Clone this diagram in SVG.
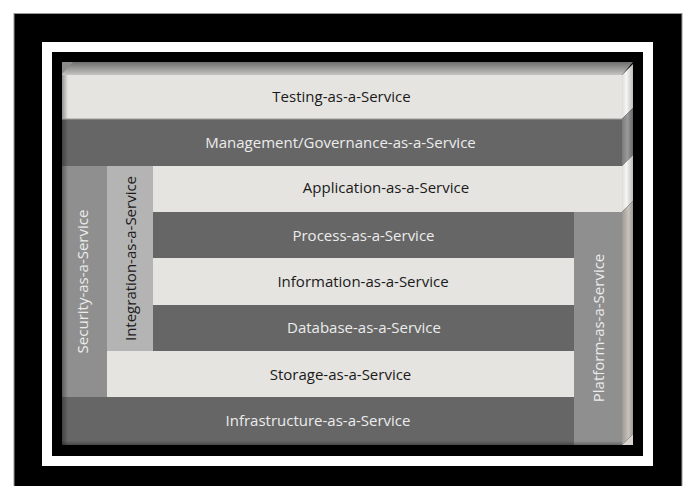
<svg xmlns="http://www.w3.org/2000/svg" width="686" height="486" viewBox="0 0 686 486">
<defs>
<linearGradient id="topFace" x1="0" y1="0" x2="0" y2="1">
<stop offset="0" stop-color="#6e6e6e"/>
<stop offset="1" stop-color="#c4c4c2"/>
</linearGradient>
<linearGradient id="sideLight" x1="0" y1="0" x2="1" y2="0">
<stop offset="0" stop-color="#dcdcda"/>
<stop offset="0.4" stop-color="#f6f6f4"/>
<stop offset="1" stop-color="#bdbdbb"/>
</linearGradient>
<linearGradient id="sideDark" x1="0" y1="0" x2="1" y2="0">
<stop offset="0" stop-color="#7c7c7c"/>
<stop offset="0.5" stop-color="#9a9a9a"/>
<stop offset="1" stop-color="#6a6a6a"/>
</linearGradient>
<linearGradient id="sidePlat" x1="0" y1="0" x2="1" y2="0">
<stop offset="0" stop-color="#9c9894"/>
<stop offset="0.6" stop-color="#c9c3bd"/>
<stop offset="1" stop-color="#9e9a96"/>
</linearGradient>
<linearGradient id="leftShade" x1="0" y1="0" x2="1" y2="0">
<stop offset="0" stop-color="#000" stop-opacity="0.35"/>
<stop offset="1" stop-color="#000" stop-opacity="0"/>
</linearGradient>
<linearGradient id="bottomShade" x1="0" y1="0" x2="0" y2="1">
<stop offset="0" stop-color="#000" stop-opacity="0"/>
<stop offset="1" stop-color="#000" stop-opacity="0.3"/>
</linearGradient>
</defs>
<style>
.light{fill:#e5e4e0}
.dark{fill:#666666}
.col{fill:#8f8f8f}
.col2{fill:#b4b4b4}
text{font-family:"Open Sans","Noto Sans","Liberation Sans",sans-serif;font-size:15px;text-anchor:middle}
.tdark{fill:#1a1a1a}
.tlight{fill:#ececec}
</style>
<rect width="686" height="486" fill="#ffffff"/>
<rect x="14" y="13.5" width="668" height="480" fill="#000000" stroke="#9a9a9a" stroke-width="1"/>
<rect x="42" y="42" width="611" height="424" fill="#ffffff"/>
<rect x="52" y="52" width="591" height="404" fill="#000000"/>

<g id="box-3d">
<polygon points="62,62 633,62 622,75 62,75" fill="url(#topFace)"/>
<polygon points="62,62 73,62 62,74" fill="#8c8c8c"/>
<polygon points="622,75 633,64 633,108 622,119" fill="url(#sideLight)"/>
<polygon points="622,119 633,108 633,155 622,166" fill="url(#sideDark)"/>
<polygon points="622,166 633,155 633,201 622,212" fill="url(#sideLight)"/>
<polygon points="622,212 633,201 633,434 622,445" fill="url(#sidePlat)"/>
<polygon points="622,445 633,434 633,445" fill="#d8d4cf"/>
</g>

<g id="testing">
<rect class="light" x="62" y="75" width="560" height="44"/>
<text class="tdark" x="341.5" y="101.5">Testing-as-a-Service</text>
</g>
<g id="management">
<rect class="dark" x="62" y="119" width="560" height="47"/>
<text class="tlight" x="340.5" y="148">Management/Governance-as-a-Service</text>
</g>
<g id="security">
<rect class="col" x="62" y="166" width="45" height="231"/>
<text class="tlight" transform="translate(87.5,281.5) rotate(-90)">Security-as-a-Service</text>
</g>
<g id="integration">
<rect class="col2" x="107" y="166" width="46" height="185"/>
<text class="tdark" transform="translate(135.5,258.5) rotate(-90)">Integration-as-a-Service</text>
</g>
<g id="application">
<rect class="light" x="153" y="166" width="469" height="46"/>
<text class="tdark" x="386" y="192.5">Application-as-a-Service</text>
</g>
<g id="process">
<rect class="dark" x="153" y="212" width="421" height="46"/>
<text class="tlight" x="363.5" y="240.5">Process-as-a-Service</text>
</g>
<g id="information">
<rect class="light" x="153" y="258" width="421" height="47"/>
<text class="tdark" x="363" y="286.5">Information-as-a-Service</text>
</g>
<g id="database">
<rect class="dark" x="153" y="305" width="421" height="46"/>
<text class="tlight" x="364" y="333">Database-as-a-Service</text>
</g>
<g id="storage">
<rect class="light" x="107" y="351" width="467" height="46"/>
<text class="tdark" x="340.5" y="379.5">Storage-as-a-Service</text>
</g>
<g id="infrastructure">
<rect class="dark" x="62" y="397" width="512" height="48"/>
<text class="tlight" x="318" y="425.5">Infrastructure-as-a-Service</text>
</g>
<g id="platform">
<rect class="col" x="574" y="212" width="48" height="233"/>
<text class="tlight" transform="translate(603.5,328) rotate(-90)">Platform-as-a-Service</text>
</g>

<g id="shading">
<rect x="62" y="75" width="6" height="370" fill="url(#leftShade)"/>
<rect x="62" y="441" width="560" height="4" fill="url(#bottomShade)"/>
<line x1="62" y1="119" x2="622" y2="119" stroke="#9d9d9b" stroke-width="1"/>
</g>
</svg>
